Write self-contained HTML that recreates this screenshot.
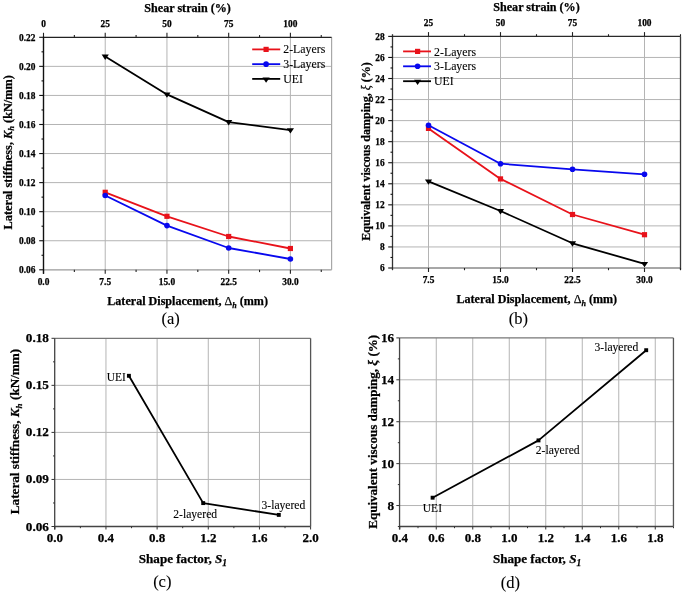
<!DOCTYPE html>
<html><head><meta charset="utf-8"><style>
html,body{margin:0;padding:0;background:#fff;}
body{width:685px;height:592px;overflow:hidden;}
svg{display:block;}
#wrap{will-change:transform;width:685px;height:592px;}
text{font-family:"Liberation Serif", serif;stroke:#000;stroke-width:0.25px;}
text[font-weight=normal]{stroke-width:0.1px;}
</style></head><body><div id="wrap">
<svg width="685" height="592" viewBox="0 0 685 592" font-family='"Liberation Serif", serif'>
<rect width="685" height="592" fill="#fff"/>
<g>
<line x1="105.22" y1="37.30" x2="105.22" y2="269.80" stroke="#b4b4b4" stroke-width="1" />
<line x1="166.95" y1="37.30" x2="166.95" y2="269.80" stroke="#b4b4b4" stroke-width="1" />
<line x1="228.67" y1="37.30" x2="228.67" y2="269.80" stroke="#b4b4b4" stroke-width="1" />
<line x1="290.40" y1="37.30" x2="290.40" y2="269.80" stroke="#b4b4b4" stroke-width="1" />
<line x1="43.50" y1="240.74" x2="331.60" y2="240.74" stroke="#b4b4b4" stroke-width="1" />
<line x1="43.50" y1="211.68" x2="331.60" y2="211.68" stroke="#b4b4b4" stroke-width="1" />
<line x1="43.50" y1="182.61" x2="331.60" y2="182.61" stroke="#b4b4b4" stroke-width="1" />
<line x1="43.50" y1="153.55" x2="331.60" y2="153.55" stroke="#b4b4b4" stroke-width="1" />
<line x1="43.50" y1="124.49" x2="331.60" y2="124.49" stroke="#b4b4b4" stroke-width="1" />
<line x1="43.50" y1="95.43" x2="331.60" y2="95.43" stroke="#b4b4b4" stroke-width="1" />
<line x1="43.50" y1="66.36" x2="331.60" y2="66.36" stroke="#b4b4b4" stroke-width="1" />
<line x1="331.60" y1="37.30" x2="331.60" y2="269.80" stroke="#a8a8a8" stroke-width="1.2" />
<line x1="43.50" y1="269.80" x2="331.60" y2="269.80" stroke="#9a9a9a" stroke-width="1.3" />
<line x1="43.50" y1="269.80" x2="43.50" y2="273.80" stroke="#222" stroke-width="1.1" />
<line x1="105.22" y1="269.80" x2="105.22" y2="273.80" stroke="#222" stroke-width="1.1" />
<line x1="166.95" y1="269.80" x2="166.95" y2="273.80" stroke="#222" stroke-width="1.1" />
<line x1="228.67" y1="269.80" x2="228.67" y2="273.80" stroke="#222" stroke-width="1.1" />
<line x1="290.40" y1="269.80" x2="290.40" y2="273.80" stroke="#222" stroke-width="1.1" />
<line x1="74.36" y1="269.80" x2="74.36" y2="272.10" stroke="#222" stroke-width="1.1" />
<line x1="136.09" y1="269.80" x2="136.09" y2="272.10" stroke="#222" stroke-width="1.1" />
<line x1="197.81" y1="269.80" x2="197.81" y2="272.10" stroke="#222" stroke-width="1.1" />
<line x1="259.54" y1="269.80" x2="259.54" y2="272.10" stroke="#222" stroke-width="1.1" />
<line x1="321.26" y1="269.80" x2="321.26" y2="272.10" stroke="#222" stroke-width="1.1" />
<line x1="43.50" y1="37.30" x2="331.60" y2="37.30" stroke="#222" stroke-width="1.3" />
<line x1="43.50" y1="37.30" x2="43.50" y2="32.80" stroke="#222" stroke-width="1.1" />
<line x1="105.22" y1="37.30" x2="105.22" y2="32.80" stroke="#222" stroke-width="1.1" />
<line x1="166.95" y1="37.30" x2="166.95" y2="32.80" stroke="#222" stroke-width="1.1" />
<line x1="228.67" y1="37.30" x2="228.67" y2="32.80" stroke="#222" stroke-width="1.1" />
<line x1="290.40" y1="37.30" x2="290.40" y2="32.80" stroke="#222" stroke-width="1.1" />
<line x1="74.36" y1="37.30" x2="74.36" y2="35.10" stroke="#222" stroke-width="1.1" />
<line x1="136.09" y1="37.30" x2="136.09" y2="35.10" stroke="#222" stroke-width="1.1" />
<line x1="197.81" y1="37.30" x2="197.81" y2="35.10" stroke="#222" stroke-width="1.1" />
<line x1="259.54" y1="37.30" x2="259.54" y2="35.10" stroke="#222" stroke-width="1.1" />
<line x1="321.26" y1="37.30" x2="321.26" y2="35.10" stroke="#222" stroke-width="1.1" />
<line x1="43.50" y1="36.70" x2="43.50" y2="273.80" stroke="#111" stroke-width="1.4" />
<line x1="39.20" y1="269.80" x2="43.50" y2="269.80" stroke="#111" stroke-width="1.1" />
<line x1="39.20" y1="240.74" x2="43.50" y2="240.74" stroke="#111" stroke-width="1.1" />
<line x1="39.20" y1="211.68" x2="43.50" y2="211.68" stroke="#111" stroke-width="1.1" />
<line x1="39.20" y1="182.61" x2="43.50" y2="182.61" stroke="#111" stroke-width="1.1" />
<line x1="39.20" y1="153.55" x2="43.50" y2="153.55" stroke="#111" stroke-width="1.1" />
<line x1="39.20" y1="124.49" x2="43.50" y2="124.49" stroke="#111" stroke-width="1.1" />
<line x1="39.20" y1="95.43" x2="43.50" y2="95.43" stroke="#111" stroke-width="1.1" />
<line x1="39.20" y1="66.36" x2="43.50" y2="66.36" stroke="#111" stroke-width="1.1" />
<line x1="39.20" y1="37.30" x2="43.50" y2="37.30" stroke="#111" stroke-width="1.1" />
<line x1="41.50" y1="255.27" x2="43.50" y2="255.27" stroke="#111" stroke-width="1.1" />
<line x1="41.50" y1="226.21" x2="43.50" y2="226.21" stroke="#111" stroke-width="1.1" />
<line x1="41.50" y1="197.14" x2="43.50" y2="197.14" stroke="#111" stroke-width="1.1" />
<line x1="41.50" y1="168.08" x2="43.50" y2="168.08" stroke="#111" stroke-width="1.1" />
<line x1="41.50" y1="139.02" x2="43.50" y2="139.02" stroke="#111" stroke-width="1.1" />
<line x1="41.50" y1="109.96" x2="43.50" y2="109.96" stroke="#111" stroke-width="1.1" />
<line x1="41.50" y1="80.89" x2="43.50" y2="80.89" stroke="#111" stroke-width="1.1" />
<line x1="41.50" y1="51.83" x2="43.50" y2="51.83" stroke="#111" stroke-width="1.1" />
<text x="35.40" y="273.00" font-size="9.4" text-anchor="end" font-weight="bold" font-style="normal" fill="#000" >0.06</text>
<text x="35.40" y="243.94" font-size="9.4" text-anchor="end" font-weight="bold" font-style="normal" fill="#000" >0.08</text>
<text x="35.40" y="214.88" font-size="9.4" text-anchor="end" font-weight="bold" font-style="normal" fill="#000" >0.10</text>
<text x="35.40" y="185.81" font-size="9.4" text-anchor="end" font-weight="bold" font-style="normal" fill="#000" >0.12</text>
<text x="35.40" y="156.75" font-size="9.4" text-anchor="end" font-weight="bold" font-style="normal" fill="#000" >0.14</text>
<text x="35.40" y="127.69" font-size="9.4" text-anchor="end" font-weight="bold" font-style="normal" fill="#000" >0.16</text>
<text x="35.40" y="98.63" font-size="9.4" text-anchor="end" font-weight="bold" font-style="normal" fill="#000" >0.18</text>
<text x="35.40" y="69.56" font-size="9.4" text-anchor="end" font-weight="bold" font-style="normal" fill="#000" >0.20</text>
<text x="35.40" y="40.50" font-size="9.4" text-anchor="end" font-weight="bold" font-style="normal" fill="#000" >0.22</text>
<text x="43.50" y="285.00" font-size="9.4" text-anchor="middle" font-weight="bold" font-style="normal" fill="#000" >0.0</text>
<text x="105.22" y="285.00" font-size="9.4" text-anchor="middle" font-weight="bold" font-style="normal" fill="#000" >7.5</text>
<text x="166.95" y="285.00" font-size="9.4" text-anchor="middle" font-weight="bold" font-style="normal" fill="#000" >15.0</text>
<text x="228.67" y="285.00" font-size="9.4" text-anchor="middle" font-weight="bold" font-style="normal" fill="#000" >22.5</text>
<text x="290.40" y="285.00" font-size="9.4" text-anchor="middle" font-weight="bold" font-style="normal" fill="#000" >30.0</text>
<text x="43.50" y="27.30" font-size="9.4" text-anchor="middle" font-weight="bold" font-style="normal" fill="#000" >0</text>
<text x="105.22" y="27.30" font-size="9.4" text-anchor="middle" font-weight="bold" font-style="normal" fill="#000" >25</text>
<text x="166.95" y="27.30" font-size="9.4" text-anchor="middle" font-weight="bold" font-style="normal" fill="#000" >50</text>
<text x="228.67" y="27.30" font-size="9.4" text-anchor="middle" font-weight="bold" font-style="normal" fill="#000" >75</text>
<text x="290.40" y="27.30" font-size="9.4" text-anchor="middle" font-weight="bold" font-style="normal" fill="#000" >100</text>
<text x="187.60" y="11.80" font-size="12.1" text-anchor="middle" font-weight="bold" font-style="normal" fill="#000" >Shear strain (%)</text>
<text x="187.60" y="304.50" font-size="12.1" text-anchor="middle" font-weight="bold" font-style="normal" fill="#000" >Lateral Displacement, <tspan font-weight="normal">&#916;</tspan><tspan font-style="italic" font-size="8" dy="3">h</tspan><tspan dy="-3"> (mm)</tspan></text>
<text transform="translate(11.9,152.3) rotate(-90)" font-size="12.3" text-anchor="middle" font-weight="bold">Lateral stiffness, <tspan font-style="italic">K</tspan><tspan font-style="italic" font-size="8.5" dy="2.5">h</tspan><tspan dy="-2.5"> (kN/mm)</tspan></text>
<text x="170.60" y="324.40" font-size="16.5" text-anchor="middle" font-weight="normal" font-style="normal" fill="#000" >(a)</text>
<polyline points="105.22,192.30 166.95,216.30 228.67,236.50 290.40,248.50" fill="none" stroke="#e8121a" stroke-width="1.8" stroke-linejoin="round"/>
<rect x="102.62" y="189.70" width="5.2" height="5.2" fill="#e8121a"/>
<rect x="164.35" y="213.70" width="5.2" height="5.2" fill="#e8121a"/>
<rect x="226.07" y="233.90" width="5.2" height="5.2" fill="#e8121a"/>
<rect x="287.80" y="245.90" width="5.2" height="5.2" fill="#e8121a"/>
<polyline points="105.22,195.50 166.95,225.60 228.67,248.00 290.40,259.00" fill="none" stroke="#0808ee" stroke-width="1.8" stroke-linejoin="round"/>
<circle cx="105.22" cy="195.50" r="2.8" fill="#0808ee"/>
<circle cx="166.95" cy="225.60" r="2.8" fill="#0808ee"/>
<circle cx="228.67" cy="248.00" r="2.8" fill="#0808ee"/>
<circle cx="290.40" cy="259.00" r="2.8" fill="#0808ee"/>
<polyline points="105.22,56.60 166.95,94.40 228.67,122.10 290.40,130.20" fill="none" stroke="#000" stroke-width="1.8" stroke-linejoin="round"/>
<polygon points="101.62,54.60 108.82,54.60 105.22,60.00" fill="#000"/>
<polygon points="163.35,92.40 170.55,92.40 166.95,97.80" fill="#000"/>
<polygon points="225.07,120.10 232.27,120.10 228.67,125.50" fill="#000"/>
<polygon points="286.80,128.20 294.00,128.20 290.40,133.60" fill="#000"/>
<line x1="252.20" y1="49.40" x2="280.20" y2="49.40" stroke="#e8121a" stroke-width="1.8" />
<rect x="263.50" y="46.80" width="5.2" height="5.2" fill="#e8121a"/>
<text x="283.30" y="53.30" font-size="11.8" text-anchor="start" font-weight="normal" font-style="normal" fill="#000" >2-Layers</text>
<line x1="252.20" y1="64.15" x2="280.20" y2="64.15" stroke="#0808ee" stroke-width="1.8" />
<circle cx="266.10" cy="64.15" r="2.8" fill="#0808ee"/>
<text x="283.30" y="68.05" font-size="11.8" text-anchor="start" font-weight="normal" font-style="normal" fill="#000" >3-Layers</text>
<line x1="252.20" y1="78.90" x2="280.20" y2="78.90" stroke="#000" stroke-width="1.8" />
<polygon points="262.50,77.40 269.70,77.40 266.10,82.80" fill="#000"/>
<text x="283.30" y="82.80" font-size="11.8" text-anchor="start" font-weight="normal" font-style="normal" fill="#000" >UEI</text>
<line x1="428.50" y1="36.40" x2="428.50" y2="268.00" stroke="#b4b4b4" stroke-width="1" />
<line x1="500.50" y1="36.40" x2="500.50" y2="268.00" stroke="#b4b4b4" stroke-width="1" />
<line x1="572.50" y1="36.40" x2="572.50" y2="268.00" stroke="#b4b4b4" stroke-width="1" />
<line x1="644.50" y1="36.40" x2="644.50" y2="268.00" stroke="#b4b4b4" stroke-width="1" />
<line x1="392.50" y1="246.95" x2="680.50" y2="246.95" stroke="#b4b4b4" stroke-width="1" />
<line x1="392.50" y1="225.89" x2="680.50" y2="225.89" stroke="#b4b4b4" stroke-width="1" />
<line x1="392.50" y1="204.84" x2="680.50" y2="204.84" stroke="#b4b4b4" stroke-width="1" />
<line x1="392.50" y1="183.78" x2="680.50" y2="183.78" stroke="#b4b4b4" stroke-width="1" />
<line x1="392.50" y1="162.73" x2="680.50" y2="162.73" stroke="#b4b4b4" stroke-width="1" />
<line x1="392.50" y1="141.67" x2="680.50" y2="141.67" stroke="#b4b4b4" stroke-width="1" />
<line x1="392.50" y1="120.62" x2="680.50" y2="120.62" stroke="#b4b4b4" stroke-width="1" />
<line x1="392.50" y1="99.56" x2="680.50" y2="99.56" stroke="#b4b4b4" stroke-width="1" />
<line x1="392.50" y1="78.51" x2="680.50" y2="78.51" stroke="#b4b4b4" stroke-width="1" />
<line x1="392.50" y1="57.45" x2="680.50" y2="57.45" stroke="#b4b4b4" stroke-width="1" />
<line x1="392.50" y1="268.00" x2="680.50" y2="268.00" stroke="#8a8a8a" stroke-width="1.6" />
<line x1="680.50" y1="36.40" x2="680.50" y2="269.50" stroke="#3a3a3a" stroke-width="1.3" />
<line x1="392.50" y1="36.40" x2="680.50" y2="36.40" stroke="#2a2a2a" stroke-width="1.3" />
<line x1="392.50" y1="34.20" x2="392.50" y2="270.20" stroke="#333" stroke-width="1.3" />
<line x1="428.50" y1="268.00" x2="428.50" y2="272.00" stroke="#222" stroke-width="1.1" />
<line x1="428.50" y1="36.40" x2="428.50" y2="32.10" stroke="#222" stroke-width="1.1" />
<line x1="500.50" y1="268.00" x2="500.50" y2="272.00" stroke="#222" stroke-width="1.1" />
<line x1="500.50" y1="36.40" x2="500.50" y2="32.10" stroke="#222" stroke-width="1.1" />
<line x1="572.50" y1="268.00" x2="572.50" y2="272.00" stroke="#222" stroke-width="1.1" />
<line x1="572.50" y1="36.40" x2="572.50" y2="32.10" stroke="#222" stroke-width="1.1" />
<line x1="644.50" y1="268.00" x2="644.50" y2="272.00" stroke="#222" stroke-width="1.1" />
<line x1="644.50" y1="36.40" x2="644.50" y2="32.10" stroke="#222" stroke-width="1.1" />
<line x1="464.50" y1="268.00" x2="464.50" y2="270.20" stroke="#222" stroke-width="1.1" />
<line x1="464.50" y1="36.40" x2="464.50" y2="34.20" stroke="#222" stroke-width="1.1" />
<line x1="536.50" y1="268.00" x2="536.50" y2="270.20" stroke="#222" stroke-width="1.1" />
<line x1="536.50" y1="36.40" x2="536.50" y2="34.20" stroke="#222" stroke-width="1.1" />
<line x1="608.50" y1="268.00" x2="608.50" y2="270.20" stroke="#222" stroke-width="1.1" />
<line x1="608.50" y1="36.40" x2="608.50" y2="34.20" stroke="#222" stroke-width="1.1" />
<line x1="680.50" y1="268.00" x2="680.50" y2="270.20" stroke="#222" stroke-width="1.1" />
<line x1="680.50" y1="36.40" x2="680.50" y2="34.20" stroke="#222" stroke-width="1.1" />
<line x1="388.20" y1="268.00" x2="392.50" y2="268.00" stroke="#111" stroke-width="1.1" />
<line x1="388.20" y1="246.95" x2="392.50" y2="246.95" stroke="#111" stroke-width="1.1" />
<line x1="388.20" y1="225.89" x2="392.50" y2="225.89" stroke="#111" stroke-width="1.1" />
<line x1="388.20" y1="204.84" x2="392.50" y2="204.84" stroke="#111" stroke-width="1.1" />
<line x1="388.20" y1="183.78" x2="392.50" y2="183.78" stroke="#111" stroke-width="1.1" />
<line x1="388.20" y1="162.73" x2="392.50" y2="162.73" stroke="#111" stroke-width="1.1" />
<line x1="388.20" y1="141.67" x2="392.50" y2="141.67" stroke="#111" stroke-width="1.1" />
<line x1="388.20" y1="120.62" x2="392.50" y2="120.62" stroke="#111" stroke-width="1.1" />
<line x1="388.20" y1="99.56" x2="392.50" y2="99.56" stroke="#111" stroke-width="1.1" />
<line x1="388.20" y1="78.51" x2="392.50" y2="78.51" stroke="#111" stroke-width="1.1" />
<line x1="388.20" y1="57.45" x2="392.50" y2="57.45" stroke="#111" stroke-width="1.1" />
<line x1="388.20" y1="36.40" x2="392.50" y2="36.40" stroke="#111" stroke-width="1.1" />
<line x1="390.50" y1="257.47" x2="392.50" y2="257.47" stroke="#111" stroke-width="1.1" />
<line x1="390.50" y1="236.42" x2="392.50" y2="236.42" stroke="#111" stroke-width="1.1" />
<line x1="390.50" y1="215.36" x2="392.50" y2="215.36" stroke="#111" stroke-width="1.1" />
<line x1="390.50" y1="194.31" x2="392.50" y2="194.31" stroke="#111" stroke-width="1.1" />
<line x1="390.50" y1="173.25" x2="392.50" y2="173.25" stroke="#111" stroke-width="1.1" />
<line x1="390.50" y1="152.20" x2="392.50" y2="152.20" stroke="#111" stroke-width="1.1" />
<line x1="390.50" y1="131.15" x2="392.50" y2="131.15" stroke="#111" stroke-width="1.1" />
<line x1="390.50" y1="110.09" x2="392.50" y2="110.09" stroke="#111" stroke-width="1.1" />
<line x1="390.50" y1="89.04" x2="392.50" y2="89.04" stroke="#111" stroke-width="1.1" />
<line x1="390.50" y1="67.98" x2="392.50" y2="67.98" stroke="#111" stroke-width="1.1" />
<line x1="390.50" y1="46.93" x2="392.50" y2="46.93" stroke="#111" stroke-width="1.1" />
<text x="384.70" y="271.20" font-size="9.4" text-anchor="end" font-weight="bold" font-style="normal" fill="#000" >6</text>
<text x="384.70" y="250.15" font-size="9.4" text-anchor="end" font-weight="bold" font-style="normal" fill="#000" >8</text>
<text x="384.70" y="229.09" font-size="9.4" text-anchor="end" font-weight="bold" font-style="normal" fill="#000" >10</text>
<text x="384.70" y="208.04" font-size="9.4" text-anchor="end" font-weight="bold" font-style="normal" fill="#000" >12</text>
<text x="384.70" y="186.98" font-size="9.4" text-anchor="end" font-weight="bold" font-style="normal" fill="#000" >14</text>
<text x="384.70" y="165.93" font-size="9.4" text-anchor="end" font-weight="bold" font-style="normal" fill="#000" >16</text>
<text x="384.70" y="144.87" font-size="9.4" text-anchor="end" font-weight="bold" font-style="normal" fill="#000" >18</text>
<text x="384.70" y="123.82" font-size="9.4" text-anchor="end" font-weight="bold" font-style="normal" fill="#000" >20</text>
<text x="384.70" y="102.76" font-size="9.4" text-anchor="end" font-weight="bold" font-style="normal" fill="#000" >22</text>
<text x="384.70" y="81.71" font-size="9.4" text-anchor="end" font-weight="bold" font-style="normal" fill="#000" >24</text>
<text x="384.70" y="60.65" font-size="9.4" text-anchor="end" font-weight="bold" font-style="normal" fill="#000" >26</text>
<text x="384.70" y="39.60" font-size="9.4" text-anchor="end" font-weight="bold" font-style="normal" fill="#000" >28</text>
<text x="428.50" y="283.40" font-size="9.4" text-anchor="middle" font-weight="bold" font-style="normal" fill="#000" >7.5</text>
<text x="500.50" y="283.40" font-size="9.4" text-anchor="middle" font-weight="bold" font-style="normal" fill="#000" >15.0</text>
<text x="572.50" y="283.40" font-size="9.4" text-anchor="middle" font-weight="bold" font-style="normal" fill="#000" >22.5</text>
<text x="644.50" y="283.40" font-size="9.4" text-anchor="middle" font-weight="bold" font-style="normal" fill="#000" >30.0</text>
<text x="428.50" y="25.60" font-size="9.4" text-anchor="middle" font-weight="bold" font-style="normal" fill="#000" >25</text>
<text x="500.50" y="25.60" font-size="9.4" text-anchor="middle" font-weight="bold" font-style="normal" fill="#000" >50</text>
<text x="572.50" y="25.60" font-size="9.4" text-anchor="middle" font-weight="bold" font-style="normal" fill="#000" >75</text>
<text x="644.50" y="25.60" font-size="9.4" text-anchor="middle" font-weight="bold" font-style="normal" fill="#000" >100</text>
<text x="536.50" y="10.70" font-size="12.1" text-anchor="middle" font-weight="bold" font-style="normal" fill="#000" >Shear strain (%)</text>
<text x="536.75" y="302.60" font-size="12.1" text-anchor="middle" font-weight="bold" font-style="normal" fill="#000" >Lateral Displacement, <tspan font-weight="normal">&#916;</tspan><tspan font-style="italic" font-size="8" dy="3">h</tspan><tspan dy="-3"> (mm)</tspan></text>
<text transform="translate(369.9,151.5) rotate(-90)" font-size="12.05" text-anchor="middle" font-weight="bold">Equivalent viscous damping, <tspan font-style="italic" font-weight="normal" font-size="11.5">&#958;</tspan> (%)</text>
<text x="518.40" y="323.60" font-size="16.5" text-anchor="middle" font-weight="normal" font-style="normal" fill="#000" >(b)</text>
<polyline points="428.50,128.40 500.50,178.90 572.50,214.50 644.50,234.70" fill="none" stroke="#e8121a" stroke-width="1.8" stroke-linejoin="round"/>
<rect x="425.90" y="125.80" width="5.2" height="5.2" fill="#e8121a"/>
<rect x="497.90" y="176.30" width="5.2" height="5.2" fill="#e8121a"/>
<rect x="569.90" y="211.90" width="5.2" height="5.2" fill="#e8121a"/>
<rect x="641.90" y="232.10" width="5.2" height="5.2" fill="#e8121a"/>
<polyline points="428.50,125.30 500.50,163.70 572.50,169.30 644.50,174.30" fill="none" stroke="#0808ee" stroke-width="1.8" stroke-linejoin="round"/>
<circle cx="428.50" cy="125.30" r="2.8" fill="#0808ee"/>
<circle cx="500.50" cy="163.70" r="2.8" fill="#0808ee"/>
<circle cx="572.50" cy="169.30" r="2.8" fill="#0808ee"/>
<circle cx="644.50" cy="174.30" r="2.8" fill="#0808ee"/>
<polyline points="428.50,181.40 500.50,211.00 572.50,243.30 644.50,263.90" fill="none" stroke="#000" stroke-width="1.8" stroke-linejoin="round"/>
<polygon points="424.90,179.40 432.10,179.40 428.50,184.80" fill="#000"/>
<polygon points="496.90,209.00 504.10,209.00 500.50,214.40" fill="#000"/>
<polygon points="568.90,241.30 576.10,241.30 572.50,246.70" fill="#000"/>
<polygon points="640.90,261.90 648.10,261.90 644.50,267.30" fill="#000"/>
<line x1="403.10" y1="51.40" x2="431.00" y2="51.40" stroke="#e8121a" stroke-width="1.8" />
<rect x="415.00" y="48.80" width="5.2" height="5.2" fill="#e8121a"/>
<text x="434.10" y="55.50" font-size="11.8" text-anchor="start" font-weight="normal" font-style="normal" fill="#000" >2-Layers</text>
<line x1="403.10" y1="66.30" x2="431.00" y2="66.30" stroke="#0808ee" stroke-width="1.8" />
<circle cx="417.60" cy="66.30" r="2.8" fill="#0808ee"/>
<text x="434.10" y="70.40" font-size="11.8" text-anchor="start" font-weight="normal" font-style="normal" fill="#000" >3-Layers</text>
<line x1="403.10" y1="81.20" x2="431.00" y2="81.20" stroke="#000" stroke-width="1.8" />
<polygon points="414.00,79.70 421.20,79.70 417.60,85.10" fill="#000"/>
<text x="434.10" y="85.30" font-size="11.8" text-anchor="start" font-weight="normal" font-style="normal" fill="#000" >UEI</text>
<line x1="105.96" y1="338.30" x2="105.96" y2="526.50" stroke="#b4b4b4" stroke-width="1" />
<line x1="157.12" y1="338.30" x2="157.12" y2="526.50" stroke="#b4b4b4" stroke-width="1" />
<line x1="208.28" y1="338.30" x2="208.28" y2="526.50" stroke="#b4b4b4" stroke-width="1" />
<line x1="259.44" y1="338.30" x2="259.44" y2="526.50" stroke="#b4b4b4" stroke-width="1" />
<line x1="54.70" y1="479.45" x2="310.60" y2="479.45" stroke="#b4b4b4" stroke-width="1" />
<line x1="54.70" y1="432.40" x2="310.60" y2="432.40" stroke="#b4b4b4" stroke-width="1" />
<line x1="54.70" y1="385.35" x2="310.60" y2="385.35" stroke="#b4b4b4" stroke-width="1" />
<line x1="54.70" y1="338.30" x2="310.60" y2="338.30" stroke="#777" stroke-width="1.3" />
<line x1="310.60" y1="338.30" x2="310.60" y2="526.50" stroke="#555" stroke-width="1.3" />
<line x1="54.70" y1="526.50" x2="310.60" y2="526.50" stroke="#444" stroke-width="1.3" />
<line x1="54.70" y1="338.30" x2="54.70" y2="529.50" stroke="#444" stroke-width="1.3" />
<line x1="54.80" y1="526.50" x2="54.80" y2="529.50" stroke="#333" stroke-width="1.0" />
<line x1="105.96" y1="526.50" x2="105.96" y2="529.50" stroke="#333" stroke-width="1.0" />
<line x1="157.12" y1="526.50" x2="157.12" y2="529.50" stroke="#333" stroke-width="1.0" />
<line x1="208.28" y1="526.50" x2="208.28" y2="529.50" stroke="#333" stroke-width="1.0" />
<line x1="259.44" y1="526.50" x2="259.44" y2="529.50" stroke="#333" stroke-width="1.0" />
<line x1="310.60" y1="526.50" x2="310.60" y2="529.50" stroke="#333" stroke-width="1.0" />
<line x1="80.38" y1="526.50" x2="80.38" y2="528.20" stroke="#333" stroke-width="1.0" />
<line x1="131.54" y1="526.50" x2="131.54" y2="528.20" stroke="#333" stroke-width="1.0" />
<line x1="182.70" y1="526.50" x2="182.70" y2="528.20" stroke="#333" stroke-width="1.0" />
<line x1="233.86" y1="526.50" x2="233.86" y2="528.20" stroke="#333" stroke-width="1.0" />
<line x1="285.02" y1="526.50" x2="285.02" y2="528.20" stroke="#333" stroke-width="1.0" />
<line x1="51.50" y1="526.50" x2="54.70" y2="526.50" stroke="#333" stroke-width="1.0" />
<line x1="51.50" y1="479.45" x2="54.70" y2="479.45" stroke="#333" stroke-width="1.0" />
<line x1="51.50" y1="432.40" x2="54.70" y2="432.40" stroke="#333" stroke-width="1.0" />
<line x1="51.50" y1="385.35" x2="54.70" y2="385.35" stroke="#333" stroke-width="1.0" />
<line x1="51.50" y1="338.30" x2="54.70" y2="338.30" stroke="#333" stroke-width="1.0" />
<line x1="53.00" y1="502.98" x2="54.70" y2="502.98" stroke="#333" stroke-width="1.0" />
<line x1="53.00" y1="455.93" x2="54.70" y2="455.93" stroke="#333" stroke-width="1.0" />
<line x1="53.00" y1="408.88" x2="54.70" y2="408.88" stroke="#333" stroke-width="1.0" />
<line x1="53.00" y1="361.83" x2="54.70" y2="361.83" stroke="#333" stroke-width="1.0" />
<text x="48.90" y="530.50" font-size="13.2" text-anchor="end" font-weight="bold" font-style="normal" fill="#000" >0.06</text>
<text x="48.90" y="483.45" font-size="13.2" text-anchor="end" font-weight="bold" font-style="normal" fill="#000" >0.09</text>
<text x="48.90" y="436.40" font-size="13.2" text-anchor="end" font-weight="bold" font-style="normal" fill="#000" >0.12</text>
<text x="48.90" y="389.35" font-size="13.2" text-anchor="end" font-weight="bold" font-style="normal" fill="#000" >0.15</text>
<text x="48.90" y="342.30" font-size="13.2" text-anchor="end" font-weight="bold" font-style="normal" fill="#000" >0.18</text>
<text x="54.80" y="542.20" font-size="13" text-anchor="middle" font-weight="bold" font-style="normal" fill="#000" >0.0</text>
<text x="105.96" y="542.20" font-size="13" text-anchor="middle" font-weight="bold" font-style="normal" fill="#000" >0.4</text>
<text x="157.12" y="542.20" font-size="13" text-anchor="middle" font-weight="bold" font-style="normal" fill="#000" >0.8</text>
<text x="208.28" y="542.20" font-size="13" text-anchor="middle" font-weight="bold" font-style="normal" fill="#000" >1.2</text>
<text x="259.44" y="542.20" font-size="13" text-anchor="middle" font-weight="bold" font-style="normal" fill="#000" >1.6</text>
<text x="310.60" y="542.20" font-size="13" text-anchor="middle" font-weight="bold" font-style="normal" fill="#000" >2.0</text>
<text x="182.90" y="563.20" font-size="13.1" text-anchor="middle" font-weight="bold" font-style="normal" fill="#000" >Shape factor, <tspan font-style="italic">S</tspan><tspan font-style="italic" font-size="9.4" dy="2.5">1</tspan></text>
<text transform="translate(19.2,431.5) rotate(-90)" font-size="13.2" text-anchor="middle" font-weight="bold">Lateral stiffness, <tspan font-style="italic">K</tspan><tspan font-style="italic" font-size="9" dy="2.5">h</tspan><tspan dy="-2.5"> (kN/mm)</tspan></text>
<text x="162.30" y="587.30" font-size="16.5" text-anchor="middle" font-weight="normal" font-style="normal" fill="#000" >(c)</text>
<polyline points="128.90,375.80 203.20,503.10 278.80,514.90" fill="none" stroke="#000" stroke-width="1.8" stroke-linejoin="round"/>
<rect x="126.95" y="373.85" width="3.9" height="3.9" fill="#000"/>
<rect x="201.25" y="501.15" width="3.9" height="3.9" fill="#000"/>
<rect x="276.85" y="512.95" width="3.9" height="3.9" fill="#000"/>
<text x="106.70" y="381.00" font-size="11.5" text-anchor="start" font-weight="normal" font-style="normal" fill="#000" >UEI</text>
<text x="173.30" y="517.70" font-size="11.6" text-anchor="start" font-weight="normal" font-style="normal" fill="#000" >2-layered</text>
<text x="261.50" y="508.80" font-size="11.6" text-anchor="start" font-weight="normal" font-style="normal" fill="#000" >3-layered</text>
<line x1="436.25" y1="337.90" x2="436.25" y2="526.50" stroke="#b4b4b4" stroke-width="1" />
<line x1="472.75" y1="337.90" x2="472.75" y2="526.50" stroke="#b4b4b4" stroke-width="1" />
<line x1="509.25" y1="337.90" x2="509.25" y2="526.50" stroke="#b4b4b4" stroke-width="1" />
<line x1="545.75" y1="337.90" x2="545.75" y2="526.50" stroke="#b4b4b4" stroke-width="1" />
<line x1="582.25" y1="337.90" x2="582.25" y2="526.50" stroke="#b4b4b4" stroke-width="1" />
<line x1="618.75" y1="337.90" x2="618.75" y2="526.50" stroke="#b4b4b4" stroke-width="1" />
<line x1="655.25" y1="337.90" x2="655.25" y2="526.50" stroke="#b4b4b4" stroke-width="1" />
<line x1="399.55" y1="505.54" x2="673.45" y2="505.54" stroke="#b4b4b4" stroke-width="1" />
<line x1="399.55" y1="463.63" x2="673.45" y2="463.63" stroke="#b4b4b4" stroke-width="1" />
<line x1="399.55" y1="421.72" x2="673.45" y2="421.72" stroke="#b4b4b4" stroke-width="1" />
<line x1="399.55" y1="379.81" x2="673.45" y2="379.81" stroke="#b4b4b4" stroke-width="1" />
<line x1="399.55" y1="337.90" x2="673.45" y2="337.90" stroke="#777" stroke-width="1.3" />
<line x1="673.45" y1="337.90" x2="673.45" y2="526.50" stroke="#555" stroke-width="1.3" />
<line x1="399.55" y1="526.50" x2="673.45" y2="526.50" stroke="#444" stroke-width="1.3" />
<line x1="399.55" y1="337.90" x2="399.55" y2="529.50" stroke="#444" stroke-width="1.3" />
<line x1="399.75" y1="526.50" x2="399.75" y2="529.50" stroke="#333" stroke-width="1.0" />
<line x1="436.25" y1="526.50" x2="436.25" y2="529.50" stroke="#333" stroke-width="1.0" />
<line x1="472.75" y1="526.50" x2="472.75" y2="529.50" stroke="#333" stroke-width="1.0" />
<line x1="509.25" y1="526.50" x2="509.25" y2="529.50" stroke="#333" stroke-width="1.0" />
<line x1="545.75" y1="526.50" x2="545.75" y2="529.50" stroke="#333" stroke-width="1.0" />
<line x1="582.25" y1="526.50" x2="582.25" y2="529.50" stroke="#333" stroke-width="1.0" />
<line x1="618.75" y1="526.50" x2="618.75" y2="529.50" stroke="#333" stroke-width="1.0" />
<line x1="655.25" y1="526.50" x2="655.25" y2="529.50" stroke="#333" stroke-width="1.0" />
<line x1="418.00" y1="526.50" x2="418.00" y2="528.20" stroke="#333" stroke-width="1.0" />
<line x1="454.50" y1="526.50" x2="454.50" y2="528.20" stroke="#333" stroke-width="1.0" />
<line x1="491.00" y1="526.50" x2="491.00" y2="528.20" stroke="#333" stroke-width="1.0" />
<line x1="527.50" y1="526.50" x2="527.50" y2="528.20" stroke="#333" stroke-width="1.0" />
<line x1="564.00" y1="526.50" x2="564.00" y2="528.20" stroke="#333" stroke-width="1.0" />
<line x1="600.50" y1="526.50" x2="600.50" y2="528.20" stroke="#333" stroke-width="1.0" />
<line x1="637.00" y1="526.50" x2="637.00" y2="528.20" stroke="#333" stroke-width="1.0" />
<line x1="673.50" y1="526.50" x2="673.50" y2="528.20" stroke="#333" stroke-width="1.0" />
<line x1="396.35" y1="505.54" x2="399.55" y2="505.54" stroke="#333" stroke-width="1.0" />
<line x1="396.35" y1="463.63" x2="399.55" y2="463.63" stroke="#333" stroke-width="1.0" />
<line x1="396.35" y1="421.72" x2="399.55" y2="421.72" stroke="#333" stroke-width="1.0" />
<line x1="396.35" y1="379.81" x2="399.55" y2="379.81" stroke="#333" stroke-width="1.0" />
<line x1="396.35" y1="337.90" x2="399.55" y2="337.90" stroke="#333" stroke-width="1.0" />
<line x1="397.85" y1="526.50" x2="399.55" y2="526.50" stroke="#333" stroke-width="1.0" />
<line x1="397.85" y1="484.59" x2="399.55" y2="484.59" stroke="#333" stroke-width="1.0" />
<line x1="397.85" y1="442.68" x2="399.55" y2="442.68" stroke="#333" stroke-width="1.0" />
<line x1="397.85" y1="400.77" x2="399.55" y2="400.77" stroke="#333" stroke-width="1.0" />
<line x1="397.85" y1="358.86" x2="399.55" y2="358.86" stroke="#333" stroke-width="1.0" />
<text x="394.20" y="509.94" font-size="13.2" text-anchor="end" font-weight="bold" font-style="normal" fill="#000" >8</text>
<text x="394.20" y="468.03" font-size="13.2" text-anchor="end" font-weight="bold" font-style="normal" fill="#000" >10</text>
<text x="394.20" y="426.12" font-size="13.2" text-anchor="end" font-weight="bold" font-style="normal" fill="#000" >12</text>
<text x="394.20" y="384.21" font-size="13.2" text-anchor="end" font-weight="bold" font-style="normal" fill="#000" >14</text>
<text x="394.20" y="342.30" font-size="13.2" text-anchor="end" font-weight="bold" font-style="normal" fill="#000" >16</text>
<text x="399.75" y="542.30" font-size="13" text-anchor="middle" font-weight="bold" font-style="normal" fill="#000" >0.4</text>
<text x="436.25" y="542.30" font-size="13" text-anchor="middle" font-weight="bold" font-style="normal" fill="#000" >0.6</text>
<text x="472.75" y="542.30" font-size="13" text-anchor="middle" font-weight="bold" font-style="normal" fill="#000" >0.8</text>
<text x="509.25" y="542.30" font-size="13" text-anchor="middle" font-weight="bold" font-style="normal" fill="#000" >1.0</text>
<text x="545.75" y="542.30" font-size="13" text-anchor="middle" font-weight="bold" font-style="normal" fill="#000" >1.2</text>
<text x="582.25" y="542.30" font-size="13" text-anchor="middle" font-weight="bold" font-style="normal" fill="#000" >1.4</text>
<text x="618.75" y="542.30" font-size="13" text-anchor="middle" font-weight="bold" font-style="normal" fill="#000" >1.6</text>
<text x="655.25" y="542.30" font-size="13" text-anchor="middle" font-weight="bold" font-style="normal" fill="#000" >1.8</text>
<text x="537.00" y="563.20" font-size="13.1" text-anchor="middle" font-weight="bold" font-style="normal" fill="#000" >Shape factor, <tspan font-style="italic">S</tspan><tspan font-style="italic" font-size="9.4" dy="2.5">1</tspan></text>
<text transform="translate(376.6,431.8) rotate(-90)" font-size="13.05" text-anchor="middle" font-weight="bold">Equivalent viscous damping, <tspan font-style="italic">&#958;</tspan> (%)</text>
<text x="510.30" y="588.00" font-size="16.5" text-anchor="middle" font-weight="normal" font-style="normal" fill="#000" >(d)</text>
<polyline points="432.60,497.70 538.50,440.40 646.20,350.20" fill="none" stroke="#000" stroke-width="1.8" stroke-linejoin="round"/>
<rect x="430.65" y="495.75" width="3.9" height="3.9" fill="#000"/>
<rect x="536.55" y="438.45" width="3.9" height="3.9" fill="#000"/>
<rect x="644.25" y="348.25" width="3.9" height="3.9" fill="#000"/>
<text x="422.80" y="511.90" font-size="11.5" text-anchor="start" font-weight="normal" font-style="normal" fill="#000" >UEI</text>
<text x="535.80" y="453.90" font-size="11.6" text-anchor="start" font-weight="normal" font-style="normal" fill="#000" >2-layered</text>
<text x="638.30" y="350.90" font-size="11.6" text-anchor="end" font-weight="normal" font-style="normal" fill="#000" >3-layered</text>
</g>
</svg></div>
</body></html>
